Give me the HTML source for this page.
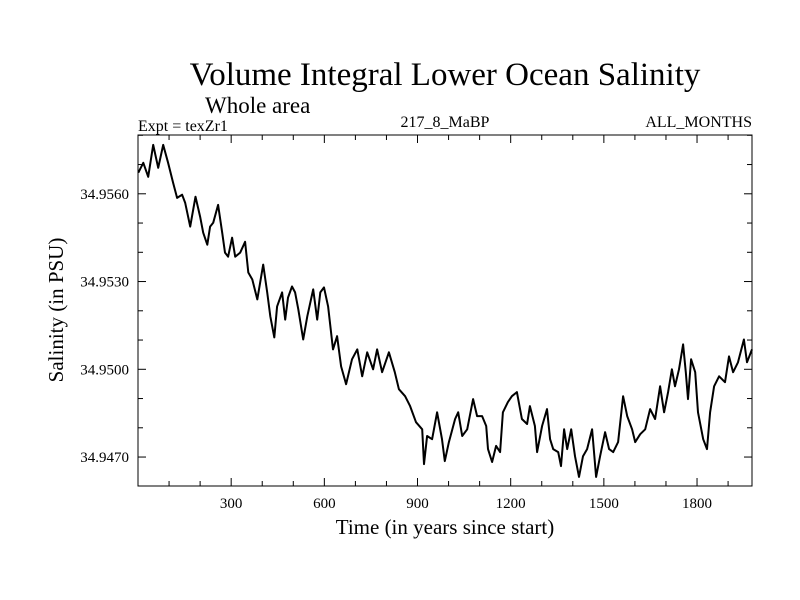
<!DOCTYPE html>
<html><head><meta charset="utf-8"><style>
body{margin:0;background:#fff}
svg{display:block;font-family:"Liberation Serif",serif}
</style></head><body>
<svg id="chart" width="800" height="600">
<text x="445" y="85" font-size="33" text-anchor="middle">Volume Integral Lower Ocean Salinity</text>
<text x="205" y="113" font-size="23">Whole area</text>
<text x="138" y="131" font-size="16">Expt = texZr1</text>
<text x="445" y="127" font-size="16" text-anchor="middle">217_8_MaBP</text>
<text x="752" y="127" font-size="16" text-anchor="end">ALL_MONTHS</text>
<text x="445" y="534" font-size="21" text-anchor="middle">Time (in years since start)</text>
<text transform="translate(63,310) rotate(-90)" font-size="21" text-anchor="middle">Salinity (in PSU)</text>
<g id="axes"></g>
<path id="line" fill="none" stroke="#000" stroke-width="2" stroke-linejoin="round"/>
<rect x="138" y="135" width="614" height="351" fill="none" stroke="#000" stroke-width="1"/>
</svg>
<script>
const years=[1,17,33,49,65,81,97,113,126,142,152,168,185,200,210,223,232,242,258,271,280,290,303,313,329,345,355,368,384,403,416,426,439,448,464,474,483,496,506,516,532,545,564,577,587,599,612,628,641,654,670,689,706,722,738,757,770,786,808,827,840,860,876,895,915,921,931,947,963,979,988,1001,1021,1031,1044,1060,1079,1092,1108,1121,1127,1140,1153,1166,1175,1191,1204,1220,1236,1253,1262,1278,1285,1301,1317,1327,1337,1353,1362,1372,1382,1395,1407,1420,1433,1446,1462,1475,1488,1504,1517,1530,1546,1562,1575,1591,1601,1617,1633,1649,1665,1681,1694,1707,1719,1729,1742,1755,1764,1771,1781,1794,1803,1820,1832,1842,1855,1871,1890,1903,1916,1932,1951,1961,1977];
const salinity=[34.95672,34.95706,34.95658,34.95767,34.95689,34.95767,34.95706,34.95638,34.95586,34.95597,34.95569,34.95488,34.9559,34.95522,34.95467,34.95426,34.95488,34.95501,34.95562,34.95467,34.95399,34.95385,34.9545,34.95385,34.95399,34.95436,34.95331,34.95307,34.95239,34.95358,34.95263,34.95181,34.95109,34.95215,34.95263,34.9517,34.95245,34.95283,34.95263,34.95205,34.95102,34.95181,34.95273,34.9517,34.95263,34.9528,34.95215,34.95068,34.95113,34.9501,34.94949,34.95034,34.95068,34.94976,34.95058,34.95,34.95068,34.9499,34.95058,34.9499,34.94932,34.94908,34.94874,34.94819,34.94795,34.94676,34.94772,34.94761,34.94853,34.94761,34.94686,34.94751,34.9483,34.94853,34.94772,34.94795,34.94898,34.9484,34.9484,34.94806,34.94727,34.94683,34.94738,34.94717,34.94853,34.94888,34.94908,34.94922,34.9483,34.94813,34.94874,34.94806,34.94717,34.94806,34.94864,34.94761,34.94727,34.94717,34.94669,34.94795,34.94727,34.94795,34.94703,34.94632,34.94703,34.94727,34.94795,34.94632,34.94703,34.94785,34.94727,34.94717,34.94751,34.94908,34.9484,34.94795,34.94751,34.94778,34.94795,34.94864,34.9483,34.94942,34.94853,34.94922,34.95,34.94942,34.95,34.95085,34.9499,34.94898,34.95034,34.9499,34.94853,34.94761,34.94727,34.94853,34.94942,34.94976,34.94956,34.95044,34.9499,34.95024,34.95102,34.95024,34.95068];
const xTicks=[300,600,900,1200,1500,1800];
const yTicks=[34.9470,34.9500,34.9530,34.9560];
const X0=138,X1=752,Y0=135,Y1=486,xMin=0,xMax=1977,yMin=34.94601,yMax=34.95801;
const sx=v=>X0+(v-xMin)/(xMax-xMin)*(X1-X0);
const sy=v=>Y1-(v-yMin)/(yMax-yMin)*(Y1-Y0);
const NS="http://www.w3.org/2000/svg",g=document.getElementById('axes');
function ln(x1,y1,x2,y2,name){const l=document.createElementNS(NS,'line');l.setAttribute('x1',x1);l.setAttribute('y1',y1);l.setAttribute('x2',x2);l.setAttribute('y2',y2);l.setAttribute('stroke','#000');


g.appendChild(l);}
for(let t=100;t<xMax;t+=100){const big=t%300===0,x=sx(t),len=big?8:5;ln(x,Y1,x,Y1-len,'x-tick');ln(x,Y0,x,Y0+len,'x-tick-top');}
for(let v=34.9470-0.001;v<yMax;v+=0.001){const y=sy(v);if(y<Y0||y>Y1)continue;const big=yTicks.some(t=>Math.abs(t-v)<1e-6),len=big?8:5;ln(X0,y,X0+len,y,'y-tick');ln(X1,y,X1-len,y,'y-tick-right');}
xTicks.forEach(t=>{const e=document.createElementNS(NS,'text');e.setAttribute('x',sx(t));e.setAttribute('y',Y1+22);e.setAttribute('font-size','15');e.setAttribute('text-anchor','middle');e.textContent=t;


g.appendChild(e);});
yTicks.forEach(t=>{const e=document.createElementNS(NS,'text');e.setAttribute('x',X0-9);e.setAttribute('y',sy(t)+5);e.setAttribute('font-size','15');e.setAttribute('text-anchor','end');e.textContent=t.toFixed(4);


g.appendChild(e);});
document.getElementById('line').setAttribute('d',years.map((y,i)=>(i?'L':'M')+sx(y).toFixed(1)+','+sy(salinity[i]).toFixed(1)).join(''));
</script>
</body></html>
